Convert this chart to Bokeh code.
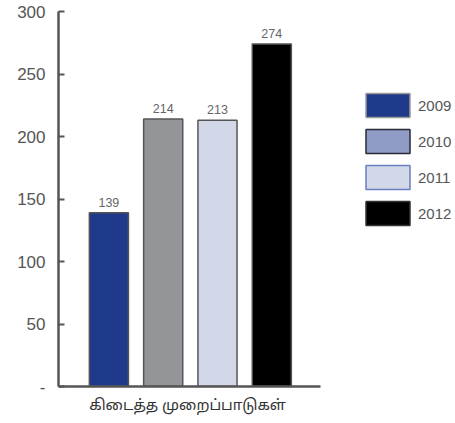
from bokeh.plotting import figure
from bokeh.models import ColumnDataSource, Range1d, FixedTicker, Legend, LegendItem
from bokeh.core.properties import value
from bokeh.embed import file_html
from bokeh.resources import INLINE

# ---- data ----
years = ["2009", "2010", "2011", "2012"]
complaints = [139, 214, 213, 274]
bar_colors = ["#1f3a8b", "#939598", "#d3d8e8", "#000000"]
legend_fill = ["#1f3a8b", "#8e9cc6", "#d3d8e8", "#000000"]
legend_line = ["#9a9a9a", "#2a2a38", "#6a7fc0", "#333333"]
x_label = "கிடைத்த  முறைப்பாடுகள்"
y_ticks = [0, 50, 100, 150, 200, 250, 300]
y_tick_labels = {0: "-"}

xs = list(range(len(years)))
src = ColumnDataSource(dict(
    x=xs, top=complaints, color=bar_colors,
    label=[str(v) for v in complaints]))

p = figure(frame_width=262, frame_height=375,
           x_range=Range1d(-0.928, 3.897), y_range=Range1d(0, 300),
           output_backend="svg", toolbar_location=None,
           min_border_left=58, min_border_top=11,
           min_border_right=135, min_border_bottom=37)
p.outline_line_color = None
p.grid.visible = False
p.background_fill_color = "white"

p.vbar(x="x", top="top", width=0.72, bottom=0, fill_color="color",
       line_color="#555555", line_width=1.5, source=src)

p.text(x="x", y="top", text="label", source=src, text_align="center",
       text_baseline="alphabetic", y_offset=-10.5, text_font_size="12.5px",
       text_color="#666666", text_font=value("Liberation Sans"))

# y axis
ya = p.yaxis[0]
ya.ticker = FixedTicker(ticks=y_ticks)
ya.major_label_overrides = y_tick_labels
ya.major_tick_in = 6
ya.major_tick_out = 0
ya.minor_tick_in = 0
ya.minor_tick_out = 0
ya.major_tick_line_width = 2
ya.major_tick_line_color = "#555555"
ya.axis_line_width = 2.5
ya.axis_line_color = "#555555"
ya.major_label_standoff = 13
ya.major_label_text_font_size = "17px"
ya.major_label_text_color = "#555555"
ya.major_label_text_font = "Liberation Sans"

# x axis
xa = p.xaxis[0]
xa.ticker = FixedTicker(ticks=[])
xa.minor_tick_in = 0
xa.minor_tick_out = 0
xa.major_tick_in = 0
xa.major_tick_out = 0
xa.axis_line_width = 2.5
xa.axis_line_color = "#555555"
xa.axis_label = x_label
xa.axis_label_standoff = 10
xa.axis_label_text_font_size = "15px"
xa.axis_label_text_font_style = "normal"
xa.axis_label_text_color = "#333333"
xa.axis_label_text_font = "'Noto Sans Tamil', 'Lohit Tamil', 'Noto Sans', sans-serif"

# legend with separate swatches
nan = float("nan")
items = []
for yr, fc, lc in zip(years, legend_fill, legend_line):
    r = p.quad(left=[nan], right=[nan], top=[nan], bottom=[nan], fill_color=fc,
               line_color=lc, line_width=1.5)
    items.append(LegendItem(label=yr, renderers=[r]))

leg = Legend(items=items, location=(40, 158), padding=0, margin=0,
             spacing=6, glyph_width=55, glyph_height=30, label_standoff=3,
             label_text_font_size="15px", label_text_color="#555555",
             label_text_font="Liberation Sans", border_line_color=None,
             background_fill_alpha=0)
p.add_layout(leg, "right")

open("out.html", "w").write(file_html(p, INLINE))
